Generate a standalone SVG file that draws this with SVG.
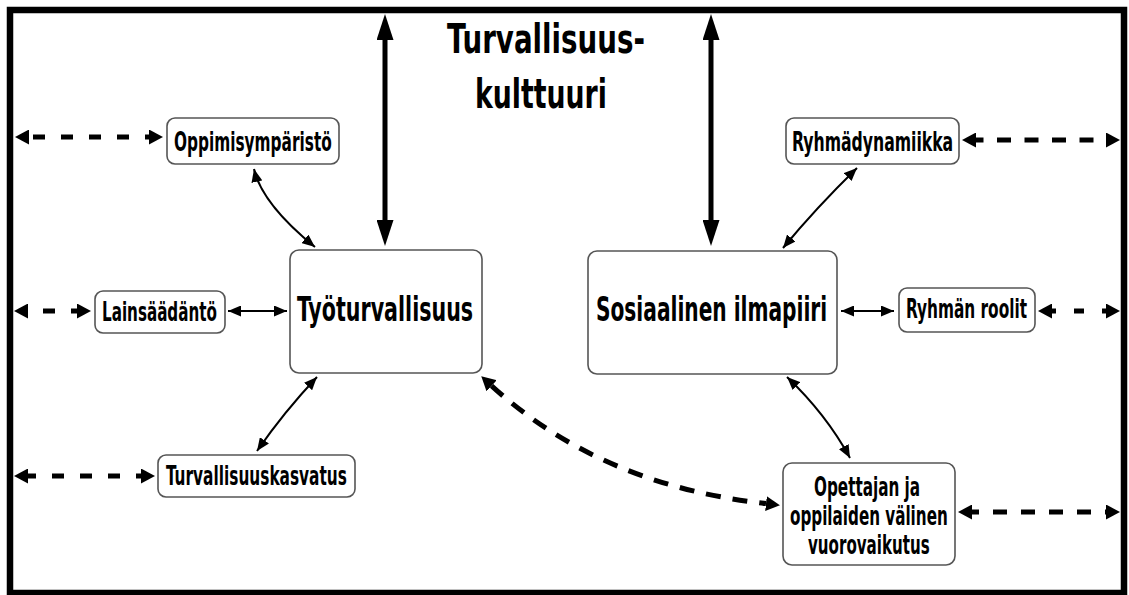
<svg xmlns="http://www.w3.org/2000/svg" width="1129" height="595" viewBox="0 0 1129 595">
<style>
  text { font-family: "DejaVu Sans Condensed", "DejaVu Sans", "Liberation Sans", sans-serif; font-weight: bold; fill: #000; }
  .title { font-size: 41px; }
  .main { font-size: 34px; }
  .lbl { font-size: 27px; }
  .box { fill: #fff; stroke: #555; stroke-width: 1.6; }
  .thick { stroke: #000; stroke-width: 5; fill: none; marker-start: url(#mThick); marker-end: url(#mThick); }
  .dash { stroke: #000; stroke-width: 5; fill: none; marker-start: url(#mDash); marker-end: url(#mDash); }
  .thin { stroke: #000; stroke-width: 2; fill: none; marker-start: url(#mThin); marker-end: url(#mThin); }
</style>
<defs>
  <marker id="mThick" viewBox="0 0 26 17" refX="0" refY="8.5" markerWidth="26" markerHeight="17" markerUnits="userSpaceOnUse" orient="auto-start-reverse">
    <path d="M0,0 L26,8.5 L0,17 z" fill="#000"/>
  </marker>
  <marker id="mDash" viewBox="0 0 14 15" refX="0" refY="7.5" markerWidth="14" markerHeight="15" markerUnits="userSpaceOnUse" orient="auto-start-reverse">
    <path d="M0,0 L14,7.5 L0,15 z" fill="#000"/>
  </marker>
  <marker id="mThin" viewBox="0 0 13 11" refX="13" refY="5.5" markerWidth="13" markerHeight="11" markerUnits="userSpaceOnUse" orient="auto-start-reverse">
    <path d="M0,0 L13,5.5 L0,11 z" fill="#000"/>
  </marker>
</defs>
<rect x="0" y="0" width="1129" height="595" fill="#fff"/>
<g id="frame">
  <rect x="10" y="10" width="1114" height="583" fill="none" stroke="#000" stroke-width="6.5"/>
</g>
<g id="title">
  <text class="title" transform="translate(447,53) scale(0.68,1)" textLength="291" lengthAdjust="spacingAndGlyphs">Turvallisuus-</text>
  <text class="title" transform="translate(475,108) scale(0.68,1)" textLength="194" lengthAdjust="spacingAndGlyphs">kulttuuri</text>
</g>
<g id="connectors">
  <line class="thick" x1="385" y1="40" x2="385" y2="220"/>
  <line class="thick" x1="711" y1="40" x2="711" y2="220"/>
  <line class="dash" x1="29" y1="137" x2="149" y2="137" stroke-dasharray="12 16" stroke-dashoffset="-4"/>
  <line class="dash" x1="28" y1="311" x2="77" y2="311" stroke-dasharray="12 16" stroke-dashoffset="-15"/>
  <line class="dash" x1="28" y1="476" x2="141" y2="476" stroke-dasharray="12 16" stroke-dashoffset="-24"/>
  <line class="dash" x1="976" y1="140" x2="1106" y2="140" stroke-dasharray="14 13.5" stroke-dashoffset="-21"/>
  <line class="dash" x1="1052" y1="311" x2="1106" y2="311" stroke-dasharray="10 18" stroke-dashoffset="-22"/>
  <line class="dash" x1="972" y1="512" x2="1106" y2="512" stroke-dasharray="14 14" stroke-dashoffset="-21"/>
  <path class="dash" d="M491.6,385.8 Q600,485 766,503.6" stroke-dasharray="15 12"/>
  <path class="thin" d="M254,169 Q262,204 315,247"/>
  <line class="thin" x1="228" y1="311" x2="287" y2="311"/>
  <path class="thin" d="M317,377 Q284,412 257,451"/>
  <path class="thin" d="M857,168 Q816,208 783,248"/>
  <line class="thin" x1="841" y1="311" x2="894" y2="311"/>
  <path class="thin" d="M787,377 Q826,414 850,458"/>
</g>
<g id="tyoturvallisuus">
  <rect class="box" x="290" y="250" width="192" height="123" rx="9"/>
  <text class="main" transform="translate(297,321) scale(0.68,1)" textLength="259" lengthAdjust="spacingAndGlyphs">Työturvallisuus</text>
</g>
<g id="sosiaalinen">
  <rect class="box" x="588" y="251" width="249" height="123" rx="9"/>
  <text class="main" transform="translate(596,321) scale(0.68,1)" textLength="340" lengthAdjust="spacingAndGlyphs">Sosiaalinen ilmapiiri</text>
</g>
<g id="oppimisymparisto">
  <rect class="box" x="167" y="118" width="172" height="46" rx="8"/>
  <text class="lbl" transform="translate(174,151) scale(0.68,1)" textLength="232" lengthAdjust="spacingAndGlyphs">Oppimisympäristö</text>
</g>
<g id="lainsaadanto">
  <rect class="box" x="95" y="291" width="130" height="42" rx="8"/>
  <text class="lbl" transform="translate(102,321) scale(0.68,1)" textLength="169" lengthAdjust="spacingAndGlyphs">Lainsäädäntö</text>
</g>
<g id="turvallisuuskasvatus">
  <rect class="box" x="158" y="455" width="197" height="42" rx="8"/>
  <text class="lbl" transform="translate(166,485) scale(0.68,1)" textLength="266" lengthAdjust="spacingAndGlyphs">Turvallisuuskasvatus</text>
</g>
<g id="ryhmadynamiikka">
  <rect class="box" x="786" y="118" width="173" height="46" rx="8"/>
  <text class="lbl" transform="translate(792,151) scale(0.68,1)" textLength="237" lengthAdjust="spacingAndGlyphs">Ryhmädynamiikka</text>
</g>
<g id="ryhman-roolit">
  <rect class="box" x="899" y="288" width="136" height="44" rx="8"/>
  <text class="lbl" transform="translate(906,318) scale(0.68,1)" textLength="178" lengthAdjust="spacingAndGlyphs">Ryhmän roolit</text>
</g>
<g id="opettajan">
  <rect class="box" x="783" y="463" width="172" height="102" rx="9"/>
  <text class="lbl" transform="translate(814,496) scale(0.68,1)" textLength="156" lengthAdjust="spacingAndGlyphs">Opettajan ja</text>
  <text class="lbl" transform="translate(790,525) scale(0.68,1)" textLength="232" lengthAdjust="spacingAndGlyphs">oppilaiden välinen</text>
  <text class="lbl" transform="translate(808,554) scale(0.68,1)" textLength="179" lengthAdjust="spacingAndGlyphs">vuorovaikutus</text>
</g>
</svg>
